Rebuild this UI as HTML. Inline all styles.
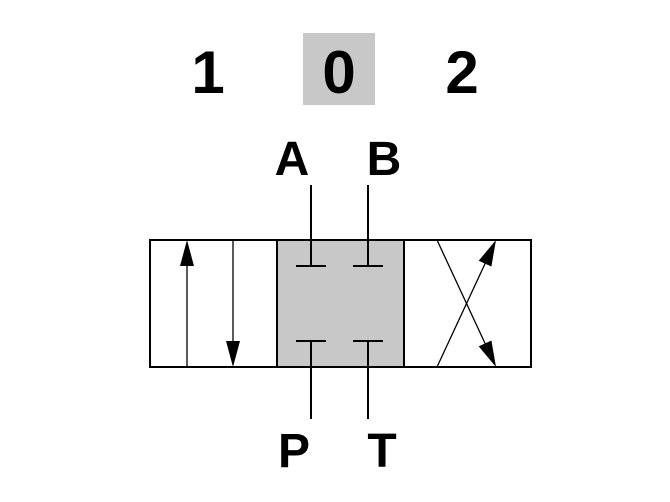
<!DOCTYPE html>
<html><head><style>
html,body{margin:0;padding:0;background:#fff;width:670px;height:502px;overflow:hidden}
svg{display:block}
text{font-family:"Liberation Sans",Arial,sans-serif;font-weight:bold;fill:#000}
</style></head><body>
<svg width="670" height="502" viewBox="0 0 670 502">
<rect x="303" y="33" width="72" height="72" fill="#c8c8c8"/>
<text x="208" y="93" font-size="60" text-anchor="middle">1</text>
<text x="339" y="93" font-size="60" text-anchor="middle">0</text>
<text x="462" y="93" font-size="60" text-anchor="middle">2</text>
<text x="292" y="175" font-size="48" text-anchor="middle">A</text>
<text x="384" y="175" font-size="48" text-anchor="middle">B</text>
<text x="294" y="467" font-size="48" text-anchor="middle">P</text>
<text x="382" y="467" font-size="48" text-anchor="middle">T</text>
<rect x="277" y="240" width="127" height="127" fill="#c8c8c8"/>
<rect x="150" y="240" width="381" height="127" fill="none" stroke="#000" stroke-width="2"/>
<line x1="277" y1="240" x2="277" y2="367" stroke="#000" stroke-width="2"/>
<line x1="404" y1="240" x2="404" y2="367" stroke="#000" stroke-width="2"/>
<g stroke="#000" stroke-width="2">
<line x1="311" y1="185" x2="311" y2="266"/>
<line x1="368" y1="185" x2="368" y2="266"/>
<line x1="296" y1="266" x2="326" y2="266"/>
<line x1="353" y1="266" x2="383" y2="266"/>
<line x1="311" y1="341" x2="311" y2="419"/>
<line x1="368" y1="341" x2="368" y2="419"/>
<line x1="296" y1="341" x2="326" y2="341"/>
<line x1="353" y1="341" x2="383" y2="341"/>
</g>
<g stroke="#000" stroke-width="1.3">
<line x1="187" y1="260" x2="187" y2="367"/>
<line x1="233" y1="240" x2="233" y2="345"/>
<line x1="437" y1="240" x2="490" y2="354"/>
<line x1="437" y1="367" x2="490" y2="253"/>
</g>
<polygon points="187,240 180,266 194,266" fill="#000"/>
<polygon points="233,367 226,341 240,341" fill="#000"/>
<polygon points="496,367 491.4,340.5 478.7,346.4" fill="#000"/>
<polygon points="496,240 491.4,266.5 478.7,260.7" fill="#000"/>
</svg>
</body></html>
